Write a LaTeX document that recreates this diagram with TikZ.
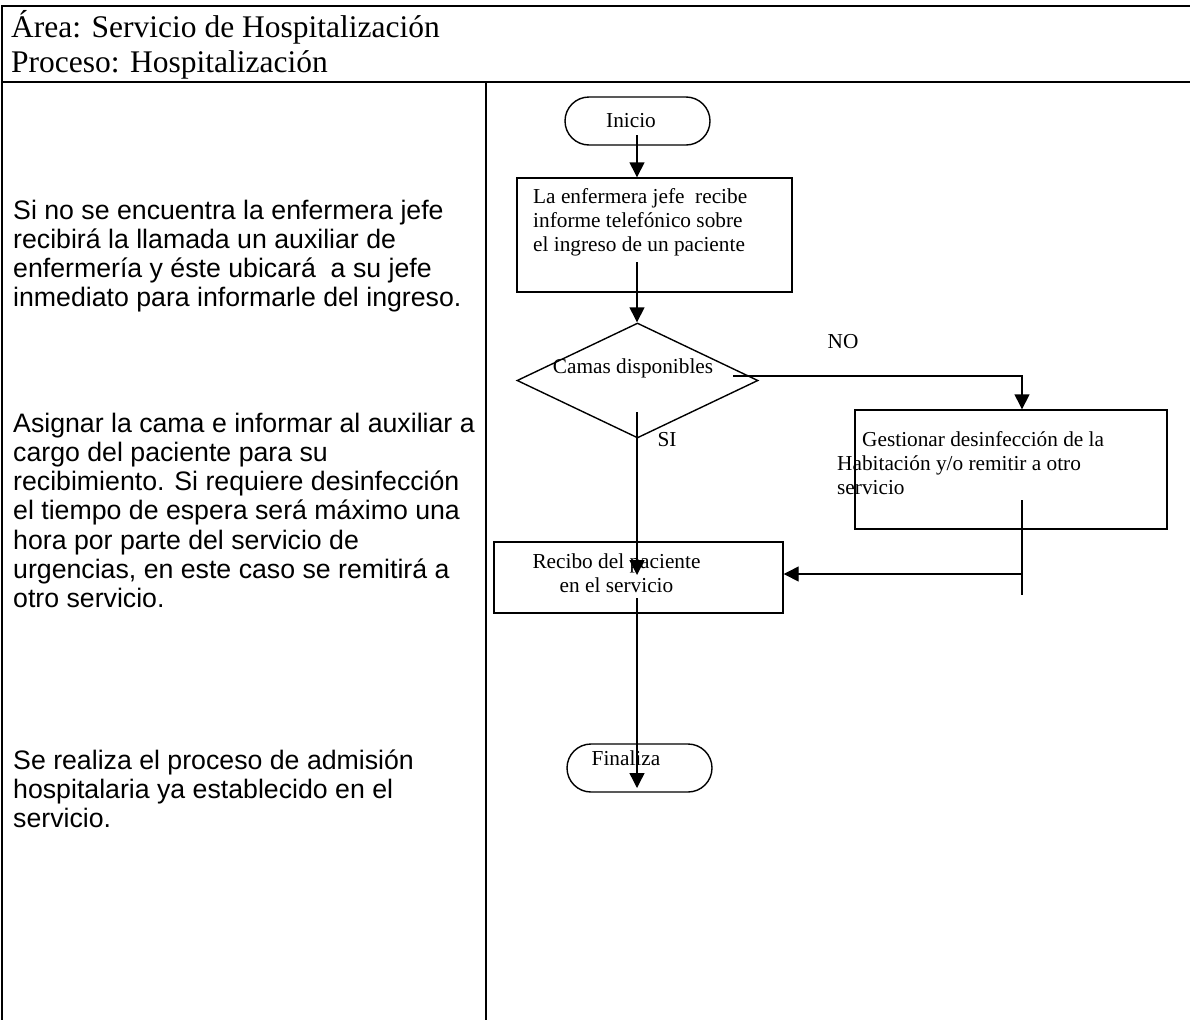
\documentclass[tikz,border=0pt]{standalone}
\usepackage{fontspec}
\setmainfont{Liberation Serif}
\newfontfamily\arialf{Liberation Sans}
\usetikzlibrary{arrows.meta,shapes.geometric}
\begin{document}
\begin{tikzpicture}[x=1pt,y=-1pt,
  frame/.style={line width=2pt},
  flow/.style={line width=1.4pt},
  arr/.style={flow,-{Triangle[length=15pt,width=15pt]}},
  procbox/.style={draw,line width=1.4pt,inner sep=0pt},
  termbox/.style={draw,line width=1.4pt,inner sep=0pt,rounded corners=24pt,minimum width=145pt,minimum height=48pt},
  side/.style={anchor=base west,inner sep=0pt,align=left,font=\arialf\fontsize{26.7}{29.3}\selectfont},
  fl/.style={inner sep=0pt,font=\fontsize{21.3}{21.5}\selectfont},
  fl2/.style={inner sep=0pt,font=\fontsize{21.3}{24}\selectfont},
  head/.style={anchor=base west,inner sep=0pt,align=left,font=\fontsize{31.5}{35}\selectfont}
  ]
\useasboundingbox (0,0) rectangle (1190,1020);
% frame
\draw[frame] (1190,6) -- (2,6) -- (2,1020);
\draw[frame] (2,82) -- (1190,82);
\draw[frame] (486,82) -- (486,1020);
% header (anchor base = baseline of last line)
\node[head] (h1) at (11,72) {Área: Servicio de Hospitalización\\Proceso: Hospitalización};
% left column
\node[side] (p1) at (13,306.9) {Si no se encuentra la enfermera jefe\\recibirá la llamada un auxiliar de\\enfermería y éste ubicará \ a su jefe\\inmediato para informarle del ingreso.};
\node[side] (p2) at (13,607.8) {Asignar la cama e informar al auxiliar a\\cargo del paciente para su\\recibimiento. Si requiere desinfección\\el tiempo de espera será máximo una\\hora por parte del servicio de\\urgencias, en este caso se remitirá a\\otro servicio.};
\node[side] (p3) at (13,827.6) {Se realiza el proceso de admisión\\hospitalaria ya establecido en el\\servicio.};
% shapes
\node[termbox] (ini) at (637.5,121) {};
\node[fl,anchor=base] (tini) at (631,127) {Inicio};
\node[procbox,minimum width=275pt,minimum height=114pt] (b1) at (654.5,235) {};
\node[fl2,anchor=base west,align=left] (tb1) at (533,251) {La enfermera jefe \ recibe\\informe telefónico sobre\\el ingreso de un paciente};
\node[draw,diamond,line width=1.4pt,inner sep=0pt,minimum width=241pt,minimum height=115pt] (d) at (637.5,380.5) {};
\node[fl,anchor=base] (td) at (633,373) {Camas disponibles};
\node[fl,anchor=base] (no) at (843,348) {NO};
\node[fl,anchor=base] (si) at (667,446) {SI};
\node[procbox,minimum width=312pt,minimum height=119pt] (b2) at (1011,469.5) {};
\node[fl2,anchor=base west,align=left] (tb2) at (837,494) {\hspace*{25pt}Gestionar desinfección de la\\Habitación y/o remitir a otro\\servicio};
\node[procbox,minimum width=289pt,minimum height=71pt] (b3) at (638.5,577.5) {};
\node[fl2,anchor=base,align=center] (tb3) at (616.5,592) {Recibo del paciente\\en el servicio};
\node[termbox] (fin) at (639.5,768) {};
\node[fl,anchor=base] (tfin) at (626,765) {Finaliza};
% connectors
\coordinate (s1) at (637,135);
\coordinate (s2) at (637,262);
\coordinate (s3) at (733,376);
\coordinate (s4) at (1022,500);
\coordinate (e4) at (1022,595);
\coordinate (j) at (1022,574);
\coordinate (s5) at (637,412);
\coordinate (t5) at (637,575);
\coordinate (s6) at (637,598);
\coordinate (t6) at (637,788);
\draw[arr] (s1) -- (s1 |- b1.north);
\draw[arr] (s2) -- (s2 |- d.north);
\draw[arr] (s3) -| (s4 |- b2.north);
\draw[arr] (s5) -- (t5);
\draw[flow] (s4) -- (e4);
\draw[arr] (j) -- (j -| b3.east);
\draw[arr] (s6) -- (t6);
\end{tikzpicture}
\end{document}
